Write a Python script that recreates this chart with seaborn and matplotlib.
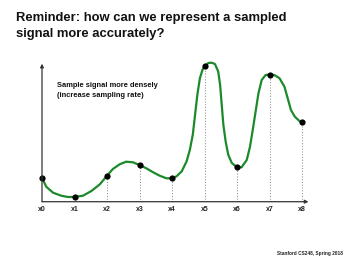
import matplotlib
matplotlib.use("Agg")
import matplotlib.pyplot as plt
import seaborn as sns
import pandas as pd

# Sample points (index, height)
sample_idx = [0, 1, 2, 3, 4, 5, 6, 7, 8]
sample_val = [24.0, 4.7, 26.0, 36.7, 23.4, 135.4, 34.4, 127.0, 79.4]
tick_labels = ["x0", "x1", "x2", "x3", "x4", "x5", "x6", "x7", "x8"]

# Continuous signal
curve_t = [0.00, 0.13, 0.34, 0.59, 0.80, 1.00, 1.26, 1.52, 1.78, 2.00,
           2.18, 2.39, 2.59, 2.80, 3.00, 3.21, 3.42, 3.62, 3.83, 4.00,
           4.14, 4.30, 4.45, 4.55, 4.64, 4.71, 4.78, 4.86, 4.94, 5.00,
           5.12, 5.22, 5.32, 5.42, 5.48, 5.53, 5.58, 5.65, 5.73, 5.84,
           6.00, 6.14, 6.30, 6.40, 6.50, 6.58, 6.66, 6.76, 6.88, 7.00,
           7.15, 7.31, 7.46, 7.56, 7.66, 7.78, 7.91, 8.00]
curve_v = [24.0, 15.0, 9.0, 6.0, 4.7, 4.7, 6.0, 10.7, 17.4, 26.0,
           32.7, 37.4, 40.0, 39.4, 36.7, 33.4, 29.4, 26.0, 23.4, 23.4,
           25.4, 30.4, 40.4, 52.0, 67.0, 87.0, 107.0, 123.7, 132.0, 135.4,
           138.7, 139.0, 137.7, 130.4, 117.0, 97.0, 77.0, 60.4, 47.0, 38.7,
           34.4, 34.4, 41.7, 55.0, 75.0, 91.7, 108.4, 121.7, 126.7, 127.0,
           126.7, 123.4, 115.0, 103.4, 91.7, 85.0, 81.0, 79.4]

title_text = "Reminder: how can we represent a sampled\nsignal more accurately?"
note_text = "Sample signal more densely\n(increase sampling rate)"
footer_text = "Stanford CS248, Spring 2018"

sns.set_style("white")
FONT = ["Liberation Sans", "DejaVu Sans"]
plt.rcParams["font.family"] = FONT

W, H = 347, 260
fig = plt.figure(figsize=(W / 100, H / 100), dpi=100)
ax_left, ax_bottom_px, ax_w, ax_h = 42, 201.7, 268, 140
ax = fig.add_axes([ax_left / W, (H - ax_bottom_px) / H, ax_w / W, ax_h / H])
ax.set_xlim(0, ax_w / 32.5)
ax.set_ylim(0, ax_h)
ax.set_axis_off()

curve_df = pd.DataFrame({"t": curve_t, "v": curve_v})
samp_df = pd.DataFrame({"t": sample_idx, "v": sample_val})

# dotted guides
for t, v in zip(sample_idx[2:], sample_val[2:]):
    ax.plot([t, t], [0, v], color="#9a9a9a", lw=0.8, ls=(0, (1, 1.5)), zorder=1)

sns.lineplot(data=curve_df, x="t", y="v", ax=ax, color="#1c8a2a", lw=1.6,
             sort=False, zorder=2, clip_on=False)
for line in ax.lines[-1:]:
    line.set_solid_joinstyle("round")
    line.set_solid_capstyle("round")
sns.scatterplot(data=samp_df, x="t", y="v", ax=ax, color="black", s=20,
                edgecolor="black", linewidth=0, zorder=3, clip_on=False)

# axes with arrows
ax.annotate("", xy=(8.2, 0), xytext=(0, 0),
            arrowprops=dict(arrowstyle="-|>", color="#333333", lw=0.9,
                            mutation_scale=5, shrinkA=0, shrinkB=0))
ax.annotate("", xy=(0, 138), xytext=(0, 0),
            arrowprops=dict(arrowstyle="-|>", color="#333333", lw=0.9,
                            mutation_scale=5, shrinkA=0, shrinkB=0))

for t, lab in zip(sample_idx, tick_labels):
    ax.text(t, -7.6, lab, ha="center", va="center", fontsize=5.0,
            fontweight="bold", color="#222222")

ax.text(0.45, 111, note_text, ha="left", va="center", fontsize=5.4,
        fontweight="bold", color="#111111", linespacing=1.5)

fig.text(16 / W, 1 - 26 / H, title_text, ha="left", va="center",
         fontsize=9.4, fontweight="bold", color="#111111", linespacing=1.4)
fig.text(343 / W, 1 - 254 / H, footer_text, ha="right", va="center",
         fontsize=3.4, fontweight="bold", color="#222222")

fig.savefig("out.png", dpi=100)
